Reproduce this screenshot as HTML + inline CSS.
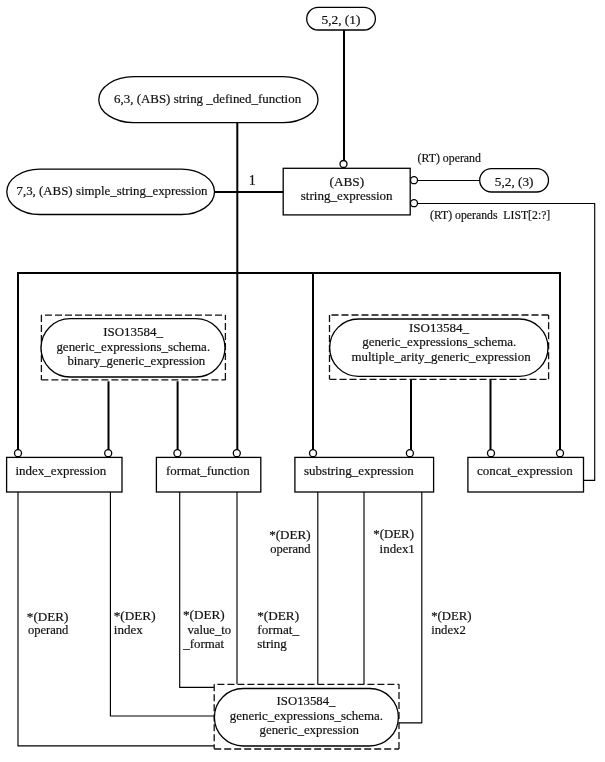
<!DOCTYPE html>
<html><head><meta charset="utf-8"><style>
html,body{margin:0;padding:0;background:#fff;width:605px;height:762px;overflow:hidden}
svg{display:block;will-change:transform}
text{font-family:"Liberation Serif", serif;fill:#111;stroke:#111;stroke-width:0.2px}
</style></head><body>
<svg width="605" height="762" viewBox="0 0 605 762">
<path d="M344,30 L344,161" fill="none" stroke="#000" stroke-width="2.0" stroke-linecap="butt" stroke-linejoin="round"/>
<path d="M237.3,123 L237.3,451" fill="none" stroke="#000" stroke-width="2.0" stroke-linecap="butt" stroke-linejoin="round"/>
<path d="M215,192 L283,192" fill="none" stroke="#000" stroke-width="2.0" stroke-linecap="butt" stroke-linejoin="round"/>
<path d="M18,273 L560,273" fill="none" stroke="#000" stroke-width="2.0" stroke-linecap="butt" stroke-linejoin="round"/>
<path d="M18,272 L18,451" fill="none" stroke="#000" stroke-width="2.0" stroke-linecap="butt" stroke-linejoin="round"/>
<path d="M313,273 L313,451" fill="none" stroke="#000" stroke-width="2.0" stroke-linecap="butt" stroke-linejoin="round"/>
<path d="M560,272 L560,451" fill="none" stroke="#000" stroke-width="2.0" stroke-linecap="butt" stroke-linejoin="round"/>
<path d="M108.5,381.3 L108.5,451" fill="none" stroke="#000" stroke-width="2.0" stroke-linecap="butt" stroke-linejoin="round"/>
<path d="M177.6,381.3 L177.6,451" fill="none" stroke="#000" stroke-width="2.0" stroke-linecap="butt" stroke-linejoin="round"/>
<path d="M411,379 L411,451" fill="none" stroke="#000" stroke-width="2.0" stroke-linecap="butt" stroke-linejoin="round"/>
<path d="M490.5,379 L490.5,451" fill="none" stroke="#000" stroke-width="2.0" stroke-linecap="butt" stroke-linejoin="round"/>
<path d="M417,180.5 L480,180.5" fill="none" stroke="#000" stroke-width="1.15" stroke-linecap="butt" stroke-linejoin="round"/>
<path d="M417,203.5 L594.7,203.5 L594.7,480.4 L583.5,480.4" fill="none" stroke="#000" stroke-width="1.15" stroke-linecap="butt" stroke-linejoin="round"/>
<path d="M18,492 L18,745.9 L214.4,745.9" fill="none" stroke="#000" stroke-width="1.15" stroke-linecap="butt" stroke-linejoin="round"/>
<path d="M110.4,492 L110.4,716 L214.4,716" fill="none" stroke="#000" stroke-width="1.15" stroke-linecap="butt" stroke-linejoin="round"/>
<path d="M179.7,492 L179.7,687.4 L214.4,687.4" fill="none" stroke="#000" stroke-width="1.15" stroke-linecap="butt" stroke-linejoin="round"/>
<path d="M237,492 L237,684.4" fill="none" stroke="#000" stroke-width="1.15" stroke-linecap="butt" stroke-linejoin="round"/>
<path d="M317.8,492 L317.8,684.4" fill="none" stroke="#000" stroke-width="1.15" stroke-linecap="butt" stroke-linejoin="round"/>
<path d="M364,492 L364,684.4" fill="none" stroke="#000" stroke-width="1.15" stroke-linecap="butt" stroke-linejoin="round"/>
<path d="M421.8,492 L421.8,722.8 L399,722.8" fill="none" stroke="#000" stroke-width="1.15" stroke-linecap="butt" stroke-linejoin="round"/>
<rect x="306.7" y="7.4" width="68.69999999999999" height="22.6" rx="11.3" ry="11.3" fill="#fff" stroke="#000" stroke-width="1.3"/>
<rect x="98.8" y="76.7" width="219.2" height="45.89999999999999" rx="35" ry="22.95" fill="#fff" stroke="#000" stroke-width="1.3"/>
<rect x="6.8" y="169.1" width="207.7" height="45.400000000000006" rx="33" ry="22.7" fill="#fff" stroke="#000" stroke-width="1.3"/>
<rect x="283.2" y="168.3" width="127.0" height="46.599999999999994" fill="#fff" stroke="#000" stroke-width="1.3"/>
<circle cx="343.5" cy="164" r="3.5" fill="#fff" stroke="#000" stroke-width="1.3"/>
<circle cx="414" cy="180.2" r="3.5" fill="#fff" stroke="#000" stroke-width="1.3"/>
<circle cx="414" cy="203.2" r="3.5" fill="#fff" stroke="#000" stroke-width="1.3"/>
<rect x="479.7" y="168.6" width="68.80000000000001" height="23.400000000000006" rx="11.700000000000003" ry="11.700000000000003" fill="#fff" stroke="#000" stroke-width="1.3"/>
<rect x="41.4" y="315.1" width="184.0" height="64.79999999999995" fill="#fff" stroke="none"/>
<path d="M41.4,315.1 L41.4,379.9" fill="none" stroke="#111" stroke-width="1.3" stroke-dasharray="7,3" stroke-dashoffset="0"/>
<path d="M41.4,379.9 L225.4,379.9" fill="none" stroke="#111" stroke-width="1.3" stroke-dasharray="7,3" stroke-dashoffset="0"/>
<path d="M225.4,379.9 L225.4,315.1" fill="none" stroke="#111" stroke-width="1.3" stroke-dasharray="7,3" stroke-dashoffset="0"/>
<path d="M41.4,315.1 L225.4,315.1" fill="none" stroke="#111" stroke-width="1.3" stroke-dasharray="7,3" stroke-dashoffset="6.4"/>
<rect x="41" y="318.7" width="184" height="58.30000000000001" rx="29.150000000000006" ry="29.150000000000006" fill="#fff" stroke="#000" stroke-width="1.3"/>
<rect x="329.5" y="315" width="219.10000000000002" height="64.30000000000001" fill="#fff" stroke="none"/>
<path d="M329.5,315 L329.5,379.3" fill="none" stroke="#111" stroke-width="1.3" stroke-dasharray="7,3" stroke-dashoffset="0"/>
<path d="M329.5,379.3 L548.6,379.3" fill="none" stroke="#111" stroke-width="1.3" stroke-dasharray="7,3" stroke-dashoffset="0"/>
<path d="M548.6,379.3 L548.6,315" fill="none" stroke="#111" stroke-width="1.3" stroke-dasharray="7,3" stroke-dashoffset="0"/>
<path d="M329.5,315 L548.6,315" fill="none" stroke="#111" stroke-width="1.3" stroke-dasharray="7,3" stroke-dashoffset="8"/>
<rect x="329.7" y="319" width="218.3" height="57.30000000000001" rx="28.650000000000006" ry="28.650000000000006" fill="#fff" stroke="#000" stroke-width="1.3"/>
<rect x="214.2" y="684.3" width="184.8" height="64.70000000000005" fill="#fff" stroke="none"/>
<path d="M214.2,684.3 L214.2,749" fill="none" stroke="#111" stroke-width="1.3" stroke-dasharray="7,3" stroke-dashoffset="0"/>
<path d="M214.2,749 L399,749" fill="none" stroke="#111" stroke-width="1.3" stroke-dasharray="7,3" stroke-dashoffset="0"/>
<path d="M399,749 L399,684.3" fill="none" stroke="#111" stroke-width="1.3" stroke-dasharray="7,3" stroke-dashoffset="0"/>
<path d="M214.2,684.3 L399,684.3" fill="none" stroke="#111" stroke-width="1.3" stroke-dasharray="7,3" stroke-dashoffset="6.8"/>
<rect x="214.4" y="688.5" width="183.99999999999997" height="57.5" rx="28.75" ry="28.75" fill="#fff" stroke="#000" stroke-width="1.3"/>
<rect x="6.6" y="457.4" width="115.4" height="34.60000000000002" fill="#fff" stroke="#000" stroke-width="1.3"/>
<circle cx="18" cy="453.2" r="3.5" fill="#fff" stroke="#000" stroke-width="1.3"/>
<circle cx="108.2" cy="453.2" r="3.5" fill="#fff" stroke="#000" stroke-width="1.3"/>
<rect x="156.4" y="457.4" width="104.4" height="34.60000000000002" fill="#fff" stroke="#000" stroke-width="1.3"/>
<circle cx="177.4" cy="453.2" r="3.5" fill="#fff" stroke="#000" stroke-width="1.3"/>
<circle cx="236.8" cy="453.2" r="3.5" fill="#fff" stroke="#000" stroke-width="1.3"/>
<rect x="294.9" y="457.4" width="138.70000000000005" height="34.60000000000002" fill="#fff" stroke="#000" stroke-width="1.3"/>
<circle cx="313" cy="453.2" r="3.5" fill="#fff" stroke="#000" stroke-width="1.3"/>
<circle cx="409.9" cy="453.2" r="3.5" fill="#fff" stroke="#000" stroke-width="1.3"/>
<rect x="467.9" y="457.4" width="115.60000000000002" height="34.60000000000002" fill="#fff" stroke="#000" stroke-width="1.3"/>
<circle cx="491" cy="453.2" r="3.5" fill="#fff" stroke="#000" stroke-width="1.3"/>
<circle cx="560" cy="453.2" r="3.5" fill="#fff" stroke="#000" stroke-width="1.3"/>
<text x="321.47" y="23.8" font-size="13" textLength="38.98" lengthAdjust="spacingAndGlyphs" xml:space="preserve">5,2, (1)</text>
<text x="114.01" y="102.8" font-size="13" textLength="187.12" lengthAdjust="spacingAndGlyphs" xml:space="preserve">6,3, (ABS) string _defined_function</text>
<text x="16.51" y="194.7" font-size="13" textLength="191.01" lengthAdjust="spacingAndGlyphs" xml:space="preserve">7,3, (ABS) simple_string_expression</text>
<text x="252.3" y="185.3" text-anchor="middle" font-size="14">1</text>
<text x="329.48" y="185.7" font-size="13" textLength="34.7" lengthAdjust="spacingAndGlyphs" xml:space="preserve">(ABS)</text>
<text x="300.8" y="200.1" font-size="13" textLength="91.82" lengthAdjust="spacingAndGlyphs" xml:space="preserve">string_expression</text>
<text x="417.55" y="162.4" font-size="12.5" textLength="63.39" lengthAdjust="spacingAndGlyphs" xml:space="preserve">(RT) operand</text>
<text x="494.88" y="185.5" font-size="13" textLength="38.55" lengthAdjust="spacingAndGlyphs" xml:space="preserve">5,2, (3)</text>
<text x="430.06" y="218.5" font-size="12.5" textLength="120.21" lengthAdjust="spacingAndGlyphs" xml:space="preserve">(RT) operands  LIST[2:?]</text>
<text x="103.2" y="336" font-size="13" textLength="59.75" lengthAdjust="spacingAndGlyphs" xml:space="preserve">ISO13584_</text>
<text x="56.4" y="350.6" font-size="13" textLength="153.73" lengthAdjust="spacingAndGlyphs" xml:space="preserve">generic_expressions_schema.</text>
<text x="67.4" y="365" font-size="13" textLength="137.86" lengthAdjust="spacingAndGlyphs" xml:space="preserve">binary_generic_expression</text>
<text x="409.0" y="332" font-size="13" textLength="59.95" lengthAdjust="spacingAndGlyphs" xml:space="preserve">ISO13584_</text>
<text x="362.2" y="346.4" font-size="13" textLength="154.14" lengthAdjust="spacingAndGlyphs" xml:space="preserve">generic_expressions_schema.</text>
<text x="351.41" y="360.5" font-size="13" textLength="179.2" lengthAdjust="spacingAndGlyphs" xml:space="preserve">multiple_arity_generic_expression</text>
<text x="276.62" y="704.9" font-size="13" textLength="58.84" lengthAdjust="spacingAndGlyphs" xml:space="preserve">ISO13584_</text>
<text x="229.81" y="719.8" font-size="13" textLength="153.13" lengthAdjust="spacingAndGlyphs" xml:space="preserve">generic_expressions_schema.</text>
<text x="259.51" y="734.3" font-size="13" textLength="99.55" lengthAdjust="spacingAndGlyphs" xml:space="preserve">generic_expression</text>
<text x="15.4" y="474.7" font-size="13" textLength="90.78" lengthAdjust="spacingAndGlyphs" xml:space="preserve">index_expression</text>
<text x="165.91" y="474.5" font-size="13" textLength="83.87" lengthAdjust="spacingAndGlyphs" xml:space="preserve">format_function</text>
<text x="304.0" y="474.9" font-size="13" textLength="109.88" lengthAdjust="spacingAndGlyphs" xml:space="preserve">substring_expression</text>
<text x="476.9" y="474.9" font-size="13" textLength="95.93" lengthAdjust="spacingAndGlyphs" xml:space="preserve">concat_expression</text>
<text x="26.88" y="620.8" font-size="12.8" textLength="41.45" lengthAdjust="spacingAndGlyphs" xml:space="preserve">*(DER)</text>
<text x="27.9" y="634.3" font-size="12.8" textLength="40.52" lengthAdjust="spacingAndGlyphs" xml:space="preserve">operand</text>
<text x="113.77" y="619.9" font-size="12.8" textLength="41.76" lengthAdjust="spacingAndGlyphs" xml:space="preserve">*(DER)</text>
<text x="113.78" y="634.1" font-size="12.8" textLength="28.96" lengthAdjust="spacingAndGlyphs" xml:space="preserve">index</text>
<text x="182.97" y="619.4" font-size="12.8" textLength="41.76" lengthAdjust="spacingAndGlyphs" xml:space="preserve">*(DER)</text>
<text x="187.5" y="633.8" font-size="12.8" textLength="43.68" lengthAdjust="spacingAndGlyphs" xml:space="preserve">value_to</text>
<text x="183.3" y="648.1" font-size="12.8" textLength="40.82" lengthAdjust="spacingAndGlyphs" xml:space="preserve">_format</text>
<text x="257.27" y="620.3" font-size="12.8" textLength="41.76" lengthAdjust="spacingAndGlyphs" xml:space="preserve">*(DER)</text>
<text x="257.27" y="634.1" font-size="12.8" textLength="41.76" lengthAdjust="spacingAndGlyphs" xml:space="preserve">format_</text>
<text x="257.29" y="648" font-size="12.8" textLength="29.57" lengthAdjust="spacingAndGlyphs" xml:space="preserve">string</text>
<text x="269.18" y="538.7" font-size="12.8" textLength="41.35" lengthAdjust="spacingAndGlyphs" xml:space="preserve">*(DER)</text>
<text x="270.2" y="553" font-size="12.8" textLength="40.31" lengthAdjust="spacingAndGlyphs" xml:space="preserve">operand</text>
<text x="373.3" y="538.1" font-size="12.8" textLength="40.62" lengthAdjust="spacingAndGlyphs" xml:space="preserve">*(DER)</text>
<text x="379.59" y="552.6" font-size="12.8" textLength="35.28" lengthAdjust="spacingAndGlyphs" xml:space="preserve">index1</text>
<text x="431.21" y="619.9" font-size="12.8" textLength="40.31" lengthAdjust="spacingAndGlyphs" xml:space="preserve">*(DER)</text>
<text x="431.21" y="633.8" font-size="12.8" textLength="34.63" lengthAdjust="spacingAndGlyphs" xml:space="preserve">index2</text>
</svg>
</body></html>
